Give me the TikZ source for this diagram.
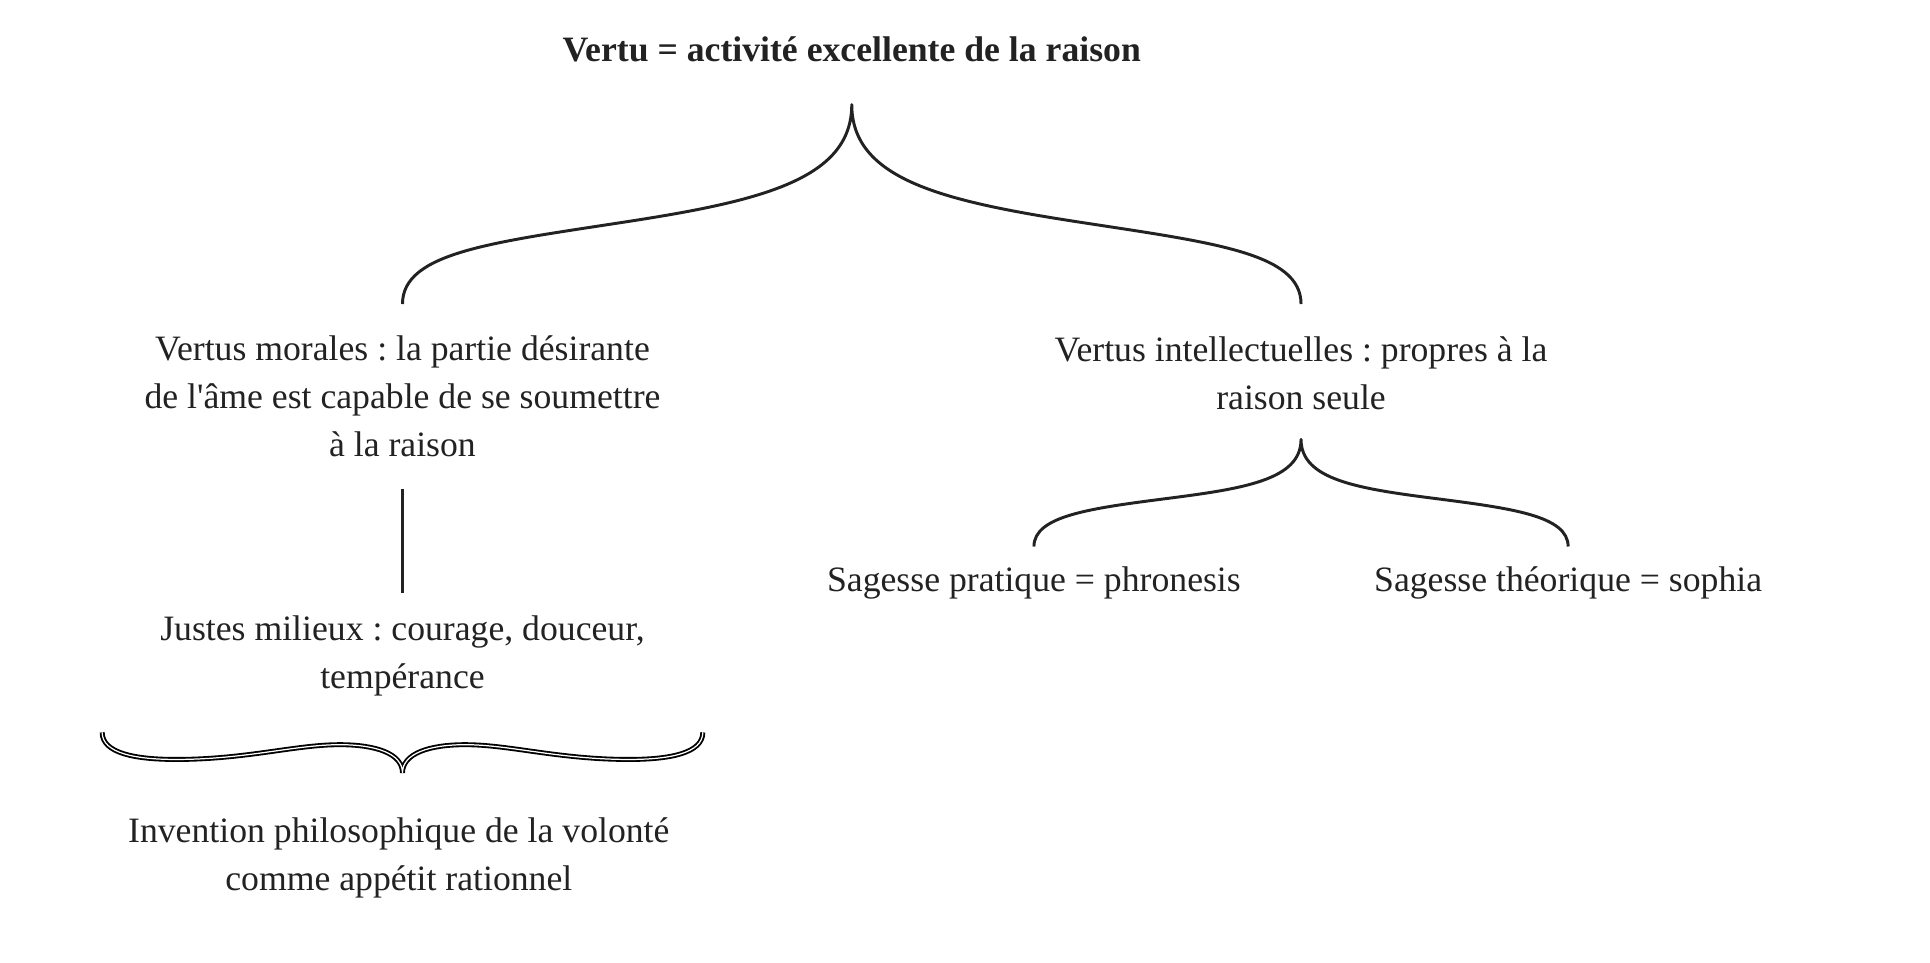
\documentclass[tikz,border=0pt]{standalone}
\usepackage{fontspec}
\setmainfont{Liberation Serif}
\definecolor{ink}{HTML}{222222}
\begin{document}
\frenchspacing
\begin{tikzpicture}[x=1pt, y=-1pt,
    txt/.style={text=ink, align=center, inner sep=0pt, font=\fontsize{29}{39}\selectfont},
    brace/.style={draw=ink, line width=2.4pt, line join=round},
    stem/.style={draw=ink, line width=2.5pt},
    wavy/.style={draw=black, double=white, line width=1.5pt, double distance=1pt}]
\useasboundingbox (0,0) rectangle (1568,781.6);

% texts
\node[txt, font=\fontsize{29}{39}\selectfont\bfseries] (vertu) at (692, 40)
                        {Vertu = activité excellente de la raison};
\node[txt] (morales) at (327, 322)
                        {Vertus morales : la partie désirante\\de l\textquotesingle âme est capable de se soumettre\\à la raison};
\node[txt] (intel) at (1057, 303)
                        {Vertus intellectuelles : propres à la\\raison seule};
\node[txt] (phron) at (840, 474) {Sagesse pratique = phronesis};
\node[txt] (sophia) at (1274, 474) {Sagesse théorique = sophia};
\node[txt] (justes) at (327, 533)
                        {Justes milieux : courage, douceur,\\tempérance};
\node[txt] (volonte) at (324, 697)
                        {Invention philosophique de la volonté\\comme appétit rationnel};

% brace ends
\coordinate (vtip) at (692, 85);
\coordinate (morl) at (327, 247);
\coordinate (intl) at (1057, 247);
\coordinate (itip) at (1057, 357);
\coordinate (phrl) at (840, 444);
\coordinate (sopl) at (1274, 444);
\coordinate (mtop) at (327, 397);
\coordinate (jtop) at (327, 482);
\coordinate (wl) at (83, 595);
\coordinate (wtip) at (327, 628);
\coordinate (wr) at (571, 595);

% big brace
\draw[brace] (morl) .. controls +(0,-42) and +(-110,17) .. (510,180)
    .. controls +(110,-17) and +(0,60) .. (vtip)
    .. controls +(0,60) and +(-110,-17) .. (874,180)
    .. controls +(110,17) and +(0,-42) .. (intl);

% small brace
\draw[brace] (phrl) .. controls +(0,-25) and +(-62,8) .. (948,405)
    .. controls +(62,-8) and +(0,33) .. (itip)
    .. controls +(0,33) and +(-62,-8) .. (1166,405)
    .. controls +(62,8) and +(0,-25) .. (sopl);

% stem
\draw[stem] (mtop) -- (jtop);

% lower brace
\draw[wavy] (wl) .. controls +(0,17) and +(-33,0) .. (143,617)
    .. controls +(57,0) and +(-36,0) .. (276,605)
    .. controls +(29,0) and +(0,-16) .. (wtip)
    .. controls +(0,-16) and +(-29,0) .. (378,605)
    .. controls +(36,0) and +(-57,0) .. (511,617)
    .. controls +(33,0) and +(0,17) .. (wr);

\end{tikzpicture}
\end{document}
